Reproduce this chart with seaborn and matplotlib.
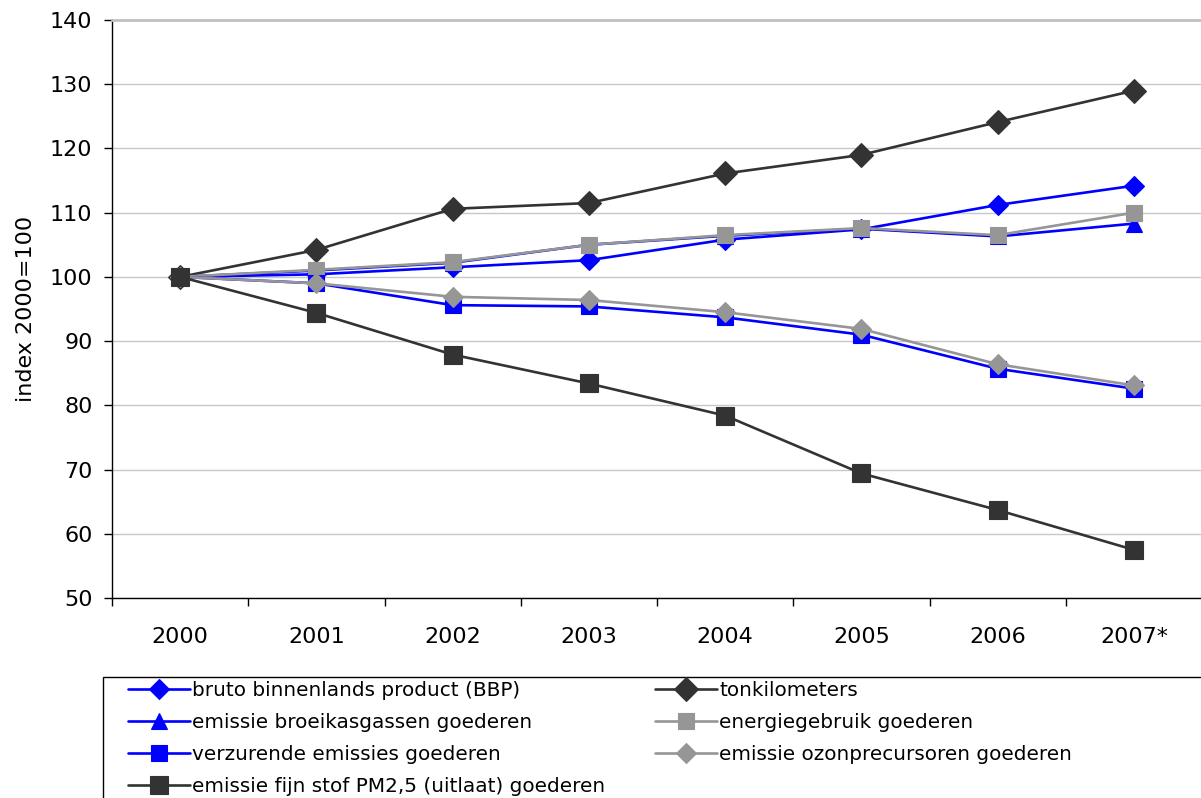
import numpy as np
import pandas as pd
import matplotlib
matplotlib.use("Agg")
import matplotlib.pyplot as plt
from matplotlib.patches import Rectangle
import seaborn as sns

# Data (index 2000=100)
years = ["2000", "2001", "2002", "2003", "2004", "2005", "2006", "2007*"]
bbp = [100, 100.4, 101.5, 102.6, 105.8, 107.4, 111.2, 114.2]
tonkilometers = [100, 104.2, 110.6, 111.5, 116.1, 119.0, 124.1, 129.0]
broeikasgassen = [100, 101.0, 102.2, 105.0, 106.4, 107.5, 106.3, 108.3]
energiegebruik = [100, 101.1, 102.3, 105.0, 106.5, 107.6, 106.5, 110.0]
verzurend = [100, 99.0, 95.6, 95.4, 93.7, 91.0, 85.7, 82.6]
ozonprecursoren = [100, 99.0, 96.9, 96.4, 94.5, 91.9, 86.4, 83.1]
fijn_stof = [100, 94.4, 87.9, 83.4, 78.4, 69.4, 63.7, 57.5]

BLUE = "#0000ff"
DARK = "#333333"
GREY = "#969696"

# drawing order as in the original (last one on top)
series = [
    ("bruto binnenlands product (BBP)", bbp, BLUE, "D", 10),
    ("tonkilometers", tonkilometers, DARK, "D", 12),
    ("emissie broeikasgassen goederen", broeikasgassen, BLUE, "^", 11),
    ("energiegebruik goederen", energiegebruik, GREY, "s", 11),
    ("verzurende emissies goederen", verzurend, BLUE, "s", 11.5),
    ("emissie ozonprecursoren goederen", ozonprecursoren, GREY, "D", 10),
    ("emissie fijn stof PM2,5 (uitlaat) goederen", fijn_stof, DARK, "s", 13),
]

sns.set_style("white")
plt.rcParams["font.family"] = ["DejaVu Sans"]
plt.rcParams["text.color"] = "black"
plt.rcParams["axes.labelcolor"] = "black"
plt.rcParams["xtick.color"] = "black"
plt.rcParams["ytick.color"] = "black"

fig = plt.figure(figsize=(12.01, 7.98), dpi=100)
ax = fig.add_axes([112 / 1201, 200 / 798, 1090 / 1201, 578 / 798])

for name, vals, col, mk, ms in series:
    sns.lineplot(x=years, y=vals, ax=ax, color=col, marker=mk, markersize=ms,
                 markeredgecolor=col, markeredgewidth=0.8, linewidth=1.9,
                 label=name, sort=False)

ax.set_ylim(50, 140)
ax.set_yticks(np.arange(50, 141, 10))
ax.set_xlim(-0.5, 7.5)
ax.set_xticks(range(len(years)))
ax.set_xticklabels(years)
ax.set_xticks(np.arange(-0.5, 8, 1), minor=True)

ax.yaxis.grid(True, color="#c8c8c8", linewidth=1)
ax.xaxis.grid(False)
ax.set_axisbelow(True)

ax.spines["right"].set_visible(False)
ax.spines["top"].set_color("#c0c0c0")
ax.spines["top"].set_linewidth(2)
for s in ["left", "bottom"]:
    ax.spines[s].set_color("black")
    ax.spines[s].set_linewidth(1)

ax.tick_params(axis="y", which="major", direction="out", length=6, width=1,
               color="black", labelsize=16, pad=8, left=True)
ax.tick_params(axis="x", which="major", length=0, labelsize=16, pad=21)
ax.tick_params(axis="x", which="minor", direction="out", length=6, width=1,
               color="black", bottom=True)

ax.set_xlabel("")
ax.set_ylabel("index 2000=100", fontsize=16, labelpad=10)

# legend box runs past the right and bottom edges of the figure
fig.patches.append(Rectangle((103 / 1201, 1 - 830 / 798), 1.1, 153 / 798,
                             transform=fig.transFigure, fill=False,
                             edgecolor="black", linewidth=1, zorder=5))

handles, labels = ax.get_legend_handles_labels()
ax.get_legend().remove()
order = [0, 2, 4, 6, 1, 3, 5]
leg = fig.legend([handles[i] for i in order], [labels[i] for i in order],
                 loc="upper left", bbox_to_anchor=(128 / 1201, 1 - 681 / 798),
                 ncol=2, fontsize=14.4, frameon=False,
                 handlelength=3.1, handletextpad=0.1,
                 columnspacing=2.5, labelspacing=0.65, borderpad=0,
                 borderaxespad=0)

fig.savefig("out.png", dpi=100)
